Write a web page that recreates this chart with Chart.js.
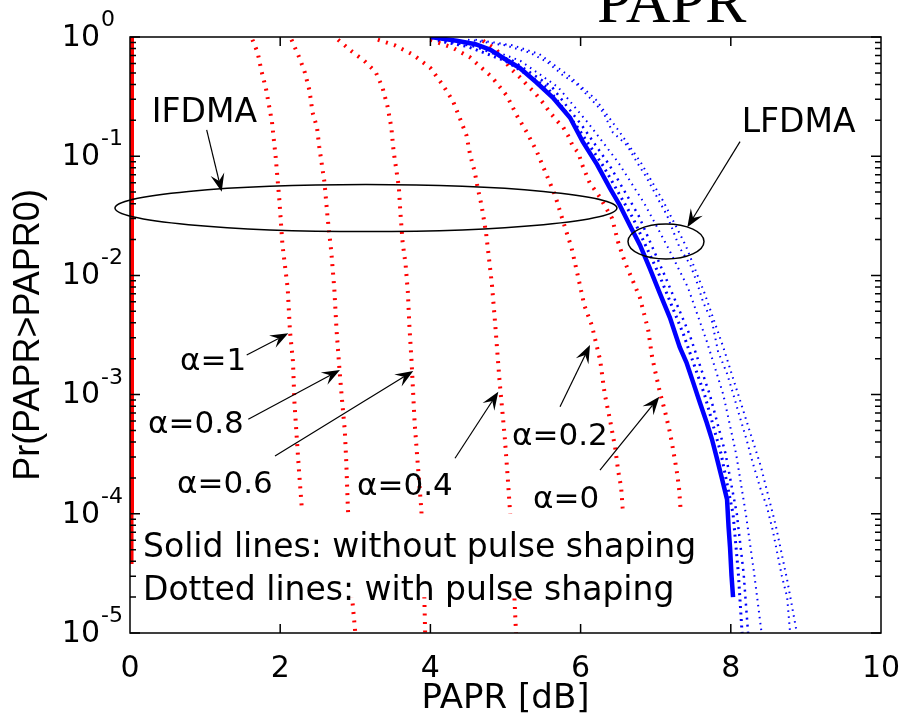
<!DOCTYPE html>
<html>
<head>
<meta charset="utf-8">
<title>PAPR CCDF</title>
<script src="https://cdn.jsdelivr.net/npm/chart.js@4.4.1/dist/chart.umd.min.js"></script>
<style>
  html, body { margin: 0; padding: 0; background: #fff; }
</style>
</head>
<body>
<canvas id="paprChart" width="904" height="720"></canvas>
<script>
// axis ticks
const xTickValues = [0, 2, 4, 6, 8, 10];
const yTickExponents = [0, -1, -2, -3, -4, -5];

// IFDMA without pulse shaping (0 dB)
const ifdmaNoPsPapr = [0, 0];
const ifdmaNoPsProb = [1, 3.8e-5];

// IFDMA with raised-cosine pulse shaping, one curve per roll-off
const ifdmaA1Papr = [1.63, 1.70, 1.75, 1.81, 1.89, 1.94, 1.99, 2.03, 2.10, 2.13, 2.17, 2.19, 2.22, 2.25, 2.29];
const ifdmaA1Prob = [0.95, 0.74, 0.52, 0.37, 0.195, 0.098, 0.042, 0.018, 7.8e-3, 3.4e-3, 1.9e-3, 8.5e-4, 4.4e-4, 2.3e-4, 1.07e-4];

const ifdmaA08Papr = [2.15, 2.26, 2.33, 2.39, 2.43, 2.49, 2.52, 2.59, 2.63, 2.68, 2.72, 2.75, 2.79, 2.82, 2.86, 2.88, 2.90, 2.96, 3.00];
const ifdmaA08Prob = [0.95, 0.66, 0.50, 0.355, 0.234, 0.174, 0.12, 0.060, 0.031, 0.0158, 7.8e-3, 3.5e-3, 1.6e-3, 9.5e-4, 5.0e-4, 2.7e-4, 1.17e-4, 1.9e-5, 1e-5];

const ifdmaA06Papr = [2.77, 2.95, 3.12, 3.27, 3.36, 3.43, 3.48, 3.51, 3.55, 3.58, 3.60, 3.63, 3.67, 3.70, 3.72, 3.75, 3.79, 3.83, 3.88, 3.92, 3.93];
const ifdmaA06Prob = [0.95, 0.76, 0.63, 0.51, 0.38, 0.26, 0.174, 0.11, 0.074, 0.055, 0.034, 0.019, 0.0123, 7.2e-3, 3.8e-3, 1.86e-3, 5.8e-4, 2.7e-4, 1.07e-4, 1.9e-5, 1e-5];

const ifdmaA04Papr = [3.30, 3.53, 3.77, 4.00, 4.16, 4.30, 4.39, 4.48, 4.53, 4.59, 4.63, 4.68, 4.74, 4.77, 4.82, 4.86, 4.92, 4.99, 5.03, 5.06, 5.12, 5.14];
const ifdmaA04Prob = [0.95, 0.85, 0.71, 0.55, 0.40, 0.29, 0.21, 0.15, 0.102, 0.074, 0.054, 0.039, 0.023, 0.0158, 8.3e-3, 4.1e-3, 1.32e-3, 4.4e-4, 2.0e-4, 1.05e-4, 1.9e-5, 1e-5];

const ifdmaA02Papr = [4.00, 4.30, 4.52, 4.63, 4.82, 5.02, 5.15, 5.28, 5.41, 5.55, 5.66, 5.77, 5.88, 5.97, 6.05, 6.15, 6.26, 6.32, 6.39, 6.46, 6.50, 6.54, 6.56, 6.62, 6.69];
const ifdmaA02Prob = [0.95, 0.81, 0.68, 0.59, 0.46, 0.32, 0.22, 0.16, 0.112, 0.069, 0.047, 0.028, 0.017, 9.5e-3, 5.6e-3, 3.8e-3, 1.95e-3, 1.02e-3, 6.2e-4, 3.6e-4, 2.3e-4, 1.66e-4, 1.12e-4, 5.0e-5, 2.2e-5];

const ifdmaA0Papr = [4.70, 4.88, 5.06, 5.19, 5.28, 5.39, 5.50, 5.59, 5.68, 5.77, 5.83, 5.90, 5.97, 6.02, 6.12, 6.26, 6.42, 6.50, 6.59, 6.68, 6.79, 6.90, 6.95, 7.00, 7.06, 7.12, 7.19, 7.23, 7.28, 7.31, 7.33];
const ifdmaA0Prob = [0.93, 0.78, 0.55, 0.46, 0.40, 0.34, 0.28, 0.234, 0.20, 0.174, 0.15, 0.12, 0.107, 0.085, 0.060, 0.045, 0.030, 0.019, 0.0129, 9.5e-3, 6.5e-3, 3.5e-3, 2.1e-3, 1.5e-3, 1.02e-3, 7.4e-4, 4.8e-4, 3.5e-4, 2.3e-4, 1.66e-4, 1.12e-4];

// LFDMA without pulse shaping
const lfdmaNoPsPapr = [4.00, 4.35, 4.60, 4.80, 4.98, 5.19, 5.41, 5.63, 5.86, 6.03, 6.22, 6.39, 6.52, 6.66, 6.79, 6.92, 7.05, 7.19, 7.32, 7.41, 7.50, 7.59, 7.68, 7.75, 7.81, 7.88, 7.95, 7.97, 7.99, 8.01, 8.03];
const lfdmaNoPsProb = [1.0, 0.93, 0.87, 0.78, 0.66, 0.55, 0.417, 0.31, 0.21, 0.132, 0.085, 0.054, 0.039, 0.026, 0.018, 0.0115, 7.2e-3, 4.4e-3, 2.5e-3, 1.86e-3, 1.26e-3, 8.5e-4, 5.8e-4, 4.2e-4, 3.0e-4, 2.0e-4, 1.32e-4, 7.8e-5, 5.2e-5, 3.0e-5, 2.0e-5];

// LFDMA with pulse shaping (bundle of dotted curves)
const lfdmaPs1Papr = [4.10, 4.50, 5.00, 5.55, 5.95, 6.30, 6.70, 7.05, 7.37, 7.65, 7.87, 8.03, 8.10, 8.15];
const lfdmaPs1Prob = [0.93, 0.83, 0.63, 0.38, 0.178, 0.083, 0.030, 0.010, 3.2e-3, 1.0e-3, 3.2e-4, 1.0e-4, 3.2e-5, 1e-5];

const lfdmaPs2Papr = [4.10, 4.60, 5.10, 5.62, 6.02, 6.38, 6.77, 7.12, 7.45, 7.72, 7.93, 8.08, 8.17, 8.23];
const lfdmaPs2Prob = [0.95, 0.83, 0.63, 0.38, 0.18, 0.085, 0.032, 0.010, 3.2e-3, 1.0e-3, 3.2e-4, 1.0e-4, 3.2e-5, 1e-5];

const lfdmaPs3Papr = [4.20, 4.70, 5.20, 5.70, 6.10, 6.50, 6.85, 7.15, 7.43, 7.68, 7.90, 8.07, 8.20, 8.31, 8.41];
const lfdmaPs3Prob = [0.95, 0.83, 0.63, 0.38, 0.19, 0.089, 0.040, 0.0178, 7.9e-3, 2.8e-3, 1.0e-3, 3.2e-4, 1.0e-4, 3.2e-5, 1e-5];

const lfdmaPs4Papr = [4.50, 5.00, 5.32, 5.55, 5.76, 5.95, 6.12, 6.30, 6.43, 6.62, 6.75, 6.88, 7.02, 7.15, 7.32, 7.46, 7.55, 7.63, 7.75, 7.83, 7.95, 8.03, 8.12, 8.21, 8.29, 8.39, 8.48, 8.56, 8.61, 8.68, 8.75, 8.79];
const lfdmaPs4Prob = [0.95, 0.85, 0.74, 0.62, 0.48, 0.40, 0.31, 0.234, 0.158, 0.123, 0.089, 0.066, 0.045, 0.032, 0.017, 0.0123, 8.7e-3, 6.0e-3, 4.1e-3, 2.3e-3, 1.5e-3, 1.02e-3, 6.5e-4, 4.2e-4, 2.7e-4, 1.66e-4, 1.15e-4, 7.2e-5, 5.0e-5, 3.0e-5, 2.0e-5, 1e-5];

const lfdmaPs5Papr = [4.60, 5.10, 5.45, 5.85, 6.20, 6.50, 6.80, 7.10, 7.40, 7.65, 7.90, 8.15, 8.40, 8.60, 8.75, 8.88];
const lfdmaPs5Prob = [0.95, 0.85, 0.72, 0.47, 0.30, 0.166, 0.089, 0.042, 0.0178, 7.1e-3, 2.5e-3, 7.9e-4, 2.5e-4, 7.9e-5, 2.8e-5, 1e-5];

// annotations (positions in PAPR dB / log10 probability)
const labelNotes = [
  { text: 'IFDMA', x: 0.29, e: -0.711, size: 33 },
  { text: 'LFDMA', x: 8.145, e: -0.794, size: 33 },
  { text: 'α=1', x: 0.666, e: -2.794, size: 31 },
  { text: 'α=0.8', x: 0.240, e: -3.322, size: 31 },
  { text: 'α=0.6', x: 0.626, e: -3.826, size: 31 },
  { text: 'α=0.4', x: 3.023, e: -3.842, size: 31 },
  { text: 'α=0.2', x: 5.087, e: -3.423, size: 31 },
  { text: 'α=0', x: 5.366, e: -3.951, size: 31 }
];
const arrows = [
  { from: [1.021, -0.780], to: [1.221, -1.298] },
  { from: [8.123, -0.878], to: [7.421, -1.597] },
  { from: [1.554, -2.668], to: [2.108, -2.486] },
  { from: [1.575, -3.207], to: [2.796, -2.794] },
  { from: [1.931, -3.515], to: [3.772, -2.802] },
  { from: [4.328, -3.534], to: [4.904, -2.976] },
  { from: [5.726, -3.102], to: [6.125, -2.584] },
  { from: [6.258, -3.633], to: [7.048, -3.018] }
];
const ellipses = [
  { x: 3.142, e: -1.435, rx: 3.342, re: 0.197 },
  { x: 7.137, e: -1.716, rx: 0.506, re: 0.147 }
];
const noteBox = { x0: 0.047, x1: 7.72, e0: -4.0, e1: -4.70 };
const noteLines = [
  { text: 'Solid lines: without pulse shaping', x: 0.173, e: -4.362 },
  { text: 'Dotted lines: with pulse shaping', x: 0.173, e: -4.723 }
];

function toPoints(paprs, probs) {
  return paprs.map((v, i) => ({ x: v, y: probs[i] }));
}

const RED = '#ff0000';
const BLUE = '#0000ff';

function curve(paprs, probs, color, width, dash) {
  return {
    data: toPoints(paprs, probs),
    borderColor: color,
    borderWidth: width,
    borderDash: dash || [],
    borderCapStyle: 'butt',
    showLine: true,
    pointRadius: 0,
    fill: false,
    clip: 0
  };
}

const redDot = [2, 6.5];

// draws everything MATLAB puts on top of the lines
const overlayPlugin = {
  id: 'overlay',
  afterDatasetsDraw(chart) {
    const { ctx, scales: { x, y } } = chart;
    const px = v => x.getPixelForValue(v);
    const py = e => y.getPixelForValue(Math.pow(10, e));
    ctx.save();

    // white background behind the note text
    const bx0 = px(noteBox.x0), bx1 = px(noteBox.x1);
    const by0 = py(noteBox.e0), by1 = py(noteBox.e1);
    ctx.fillStyle = '#fff';
    ctx.fillRect(bx0, by0, bx1 - bx0, by1 - by0);

    ctx.fillStyle = '#000';
    ctx.textAlign = 'left';
    ctx.textBaseline = 'alphabetic';
    ctx.font = '33px "DejaVu Sans"';
    noteLines.forEach(l => ctx.fillText(l.text, px(l.x), py(l.e)));

    labelNotes.forEach(l => {
      ctx.font = l.size + 'px "DejaVu Sans"';
      ctx.fillText(l.text, px(l.x), py(l.e));
    });

    // arrows
    ctx.strokeStyle = '#000';
    ctx.lineWidth = 1.2;
    arrows.forEach(a => {
      const x1 = px(a.from[0]), y1 = py(a.from[1]);
      const x2 = px(a.to[0]), y2 = py(a.to[1]);
      const ang = Math.atan2(y2 - y1, x2 - x1);
      const c = Math.cos(ang), s = Math.sin(ang);
      const L = 18, W = 7, N = 11;
      ctx.beginPath();
      ctx.moveTo(x1, y1);
      ctx.lineTo(x2 - N * c, y2 - N * s);
      ctx.stroke();
      ctx.beginPath();
      ctx.moveTo(x2, y2);
      ctx.lineTo(x2 - L * c - W * s, y2 - L * s + W * c);
      ctx.lineTo(x2 - N * c, y2 - N * s);
      ctx.lineTo(x2 - L * c + W * s, y2 - L * s - W * c);
      ctx.closePath();
      ctx.fill();
    });

    // ellipses
    ctx.lineWidth = 1.5;
    ellipses.forEach(el => {
      const cx = px(el.x), cy = py(el.e);
      const rx = px(el.x + el.rx) - cx;
      const ry = cy - py(el.e + el.re);
      ctx.beginPath();
      ctx.ellipse(cx, cy, rx, ry, 0, 0, Math.PI * 2);
      ctx.stroke();
    });
    ctx.restore();
  },
  afterDraw(chart) {
    const { ctx, chartArea: a, scales: { x, y } } = chart;
    ctx.save();
    ctx.strokeStyle = '#000';
    ctx.lineWidth = 1.5;
    ctx.strokeRect(a.left, a.top, a.right - a.left, a.bottom - a.top);

    // inward ticks
    ctx.beginPath();
    xTickValues.slice(1, -1).forEach(v => {
      const xx = x.getPixelForValue(v);
      ctx.moveTo(xx, a.bottom); ctx.lineTo(xx, a.bottom - 9);
      ctx.moveTo(xx, a.top); ctx.lineTo(xx, a.top + 9);
    });
    yTickExponents.forEach(e => {
      const yy = y.getPixelForValue(Math.pow(10, e));
      ctx.moveTo(a.left, yy); ctx.lineTo(a.left + 10, yy);
      ctx.moveTo(a.right, yy); ctx.lineTo(a.right - 10, yy);
    });
    yTickExponents.slice(1).forEach(e => {
      for (let k = 2; k <= 9; k++) {
        const yy = y.getPixelForValue(k * Math.pow(10, e));
        ctx.moveTo(a.left, yy); ctx.lineTo(a.left + 6, yy);
        ctx.moveTo(a.right, yy); ctx.lineTo(a.right - 6, yy);
      }
    });
    ctx.stroke();

    // y tick labels as 10 with raised exponent
    ctx.fillStyle = '#000';
    yTickExponents.forEach(e => {
      const yy = y.getPixelForValue(Math.pow(10, e));
      ctx.font = '30px "DejaVu Sans"';
      ctx.textAlign = 'right';
      ctx.textBaseline = 'middle';
      ctx.fillText('10', a.left - 30, yy + 1);
      ctx.font = '22px "DejaVu Sans"';
      ctx.textAlign = 'left';
      ctx.textBaseline = 'alphabetic';
      ctx.fillText(String(e), a.left - 29, yy - 11);
    });

    // clipped figure title
    ctx.font = '62px "Liberation Serif"';
    ctx.textAlign = 'left';
    ctx.textBaseline = 'alphabetic';
    ctx.fillText('PAPR', a.left + 467, a.top - 15);
    ctx.restore();
  }
};

const ctx = document.getElementById('paprChart').getContext('2d');
const paprChart = new Chart(ctx, {
  type: 'scatter',
  data: {
    datasets: [
      curve(lfdmaNoPsPapr, lfdmaNoPsProb, BLUE, 4.5),
      curve(ifdmaNoPsPapr, ifdmaNoPsProb, RED, 8),
      curve(ifdmaA1Papr, ifdmaA1Prob, RED, 4, redDot),
      curve(ifdmaA08Papr, ifdmaA08Prob, RED, 4, redDot),
      curve(ifdmaA06Papr, ifdmaA06Prob, RED, 4, redDot),
      curve(ifdmaA04Papr, ifdmaA04Prob, RED, 4, redDot),
      curve(ifdmaA02Papr, ifdmaA02Prob, RED, 4, redDot),
      curve(ifdmaA0Papr, ifdmaA0Prob, RED, 4, redDot),
      curve(lfdmaPs1Papr, lfdmaPs1Prob, BLUE, 3, [2, 4.5]),
      curve(lfdmaPs2Papr, lfdmaPs2Prob, BLUE, 2.5, [2, 5]),
      curve(lfdmaPs3Papr, lfdmaPs3Prob, BLUE, 2, [1.5, 4.5]),
      curve(lfdmaPs4Papr, lfdmaPs4Prob, BLUE, 2, [1.5, 4.5]),
      curve(lfdmaPs5Papr, lfdmaPs5Prob, BLUE, 2, [1.5, 4.5])
    ]
  },
  options: {
    responsive: false,
    animation: false,
    layout: { padding: { top: 37, right: 23, bottom: 0, left: 0 } },
    plugins: {
      legend: { display: false },
      tooltip: { enabled: false }
    },
    scales: {
      x: {
        type: 'linear',
        min: 0,
        max: 10,
        afterBuildTicks: s => { s.ticks = xTickValues.map(v => ({ value: v })); },
        afterFit: s => { s.height = 87; s.paddingLeft = 0; s.paddingRight = 0; },
        ticks: {
          font: { family: 'DejaVu Sans', size: 30 },
          color: '#000',
          padding: 10,
          maxRotation: 0,
          autoSkip: false
        },
        grid: { display: false },
        border: { display: false },
        title: {
          display: true,
          text: 'PAPR [dB]',
          font: { family: 'DejaVu Sans', size: 34 },
          color: '#000',
          padding: 0
        }
      },
      y: {
        type: 'logarithmic',
        min: 1e-5,
        max: 1,
        afterFit: s => { s.width = 130; s.paddingTop = 0; s.paddingBottom = 0; },
        ticks: { display: false },
        grid: { display: false },
        border: { display: false },
        title: {
          display: true,
          text: 'Pr(PAPR>PAPR0)',
          font: { family: 'Liberation Sans', size: 36 },
          color: '#000',
          padding: { top: 7, bottom: 0 }
        }
      }
    }
  },
  plugins: [overlayPlugin]
});
</script>
</body>
</html>
